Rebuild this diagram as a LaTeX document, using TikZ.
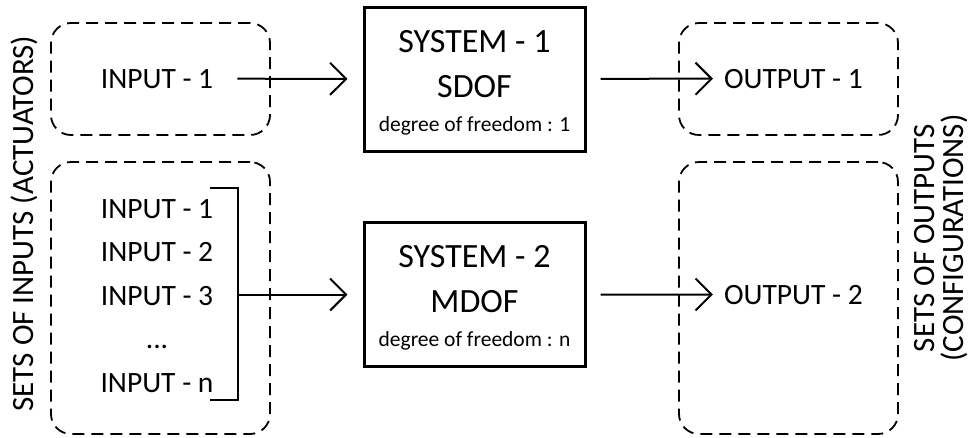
\documentclass[tikz,border=0pt]{standalone}
\usepackage{fontspec}
\setmainfont{Carlito}
\usetikzlibrary{arrows.meta}
\begin{document}
\begin{tikzpicture}[x=1pt,y=-1pt,
  conn/.style={line width=2pt,-{Straight Barb[length=16pt,width=32pt]}},
  dbox/.style={draw,line width=1.8pt,dash pattern=on 12pt off 7pt,rounded corners=20pt,minimum width=219pt,inner sep=0pt},
  sysbox/.style={draw,line width=3pt,minimum width=221pt,minimum height=144pt,inner sep=0pt},
  txt/.style={inner sep=0pt,anchor=base,font=\fontsize{29.5}{35}\selectfont},
  sysbig/.style={inner sep=0pt,anchor=base,font=\fontsize{34}{40}\selectfont},
  syssmall/.style={inner sep=0pt,anchor=base,font=\fontsize{21.5}{26}\selectfont},
  sidelabel/.style={rotate=90,inner sep=0pt,font=\fontsize{31}{29}\selectfont},
]
\useasboundingbox (0,0) rectangle (970,437);

% dashed groups
\node[dbox,minimum height=112pt] (db1) at (160.5,79) {};
\node[dbox,minimum height=272pt] (db2) at (160.5,298) {};
\node[dbox,minimum height=112pt] (db3) at (788.5,79) {};
\node[dbox,minimum height=272pt] (db4) at (788.5,298) {};

% systems
\node[sysbox] (sys1) at (474.5,79) {};
\node[sysbox] (sys2) at (474.5,294.5) {};
\node[sysbig] (s1a) at ([yshift=27pt]sys1.center) {SYSTEM - 1};
\node[sysbig] (s1b) at ([yshift=-18pt]sys1.center) {SDOF};
\node[syssmall] (s1c) at ([yshift=-52pt]sys1.center) {degree of freedom : 1};
\node[sysbig] (s2a) at ([yshift=27pt]sys2.center) {SYSTEM - 2};
\node[sysbig] (s2b) at ([yshift=-18pt]sys2.center) {MDOF};
\node[syssmall] (s2c) at ([yshift=-52pt]sys2.center) {degree of freedom : n};

% inputs
\node[txt] (in1) at (157,88) {INPUT - 1};
\node[txt] (l1) at (157,218) {INPUT - 1};
\node[txt] (l2) at (157,261.5) {INPUT - 2};
\node[txt] (l3) at (157,305) {INPUT - 3};
\node[txt] (l4) at (157,348.5) {...};
\node[txt] (l5) at (157,392) {INPUT - n};

% outputs
\node[txt] (out1) at (793.5,88) {OUTPUT - 1};
\node[txt] (out2) at (793.5,304) {OUTPUT - 2};

% bracket
\coordinate (bkt) at (238,188);
\coordinate (bkb) at (238,400);
\coordinate (bkm) at (238,294.5);
\draw[line width=2pt] ([xshift=-28pt]bkt) -- (bkt) -- (bkb) -- ([xshift=-28pt]bkb);

% connectors
\draw[conn,shorten <=24pt,shorten >=15pt] (in1) -- (sys1);
\draw[conn,shorten >=15pt] (bkm) -- (sys2);
\draw[conn,shorten <=14pt,shorten >=11pt] (sys1) -- (out1);
\draw[conn,shorten <=14pt,shorten >=11pt] (sys2) -- (out2);

% side labels
\node[sidelabel,anchor=base] (lin) at (33,223.5) {SETS OF INPUTS (ACTUATORS)};
\node[sidelabel,align=center] (lout) at (941.5,238) {SETS OF OUTPUTS\\(CONFIGURATIONS)};
\end{tikzpicture}
\end{document}
